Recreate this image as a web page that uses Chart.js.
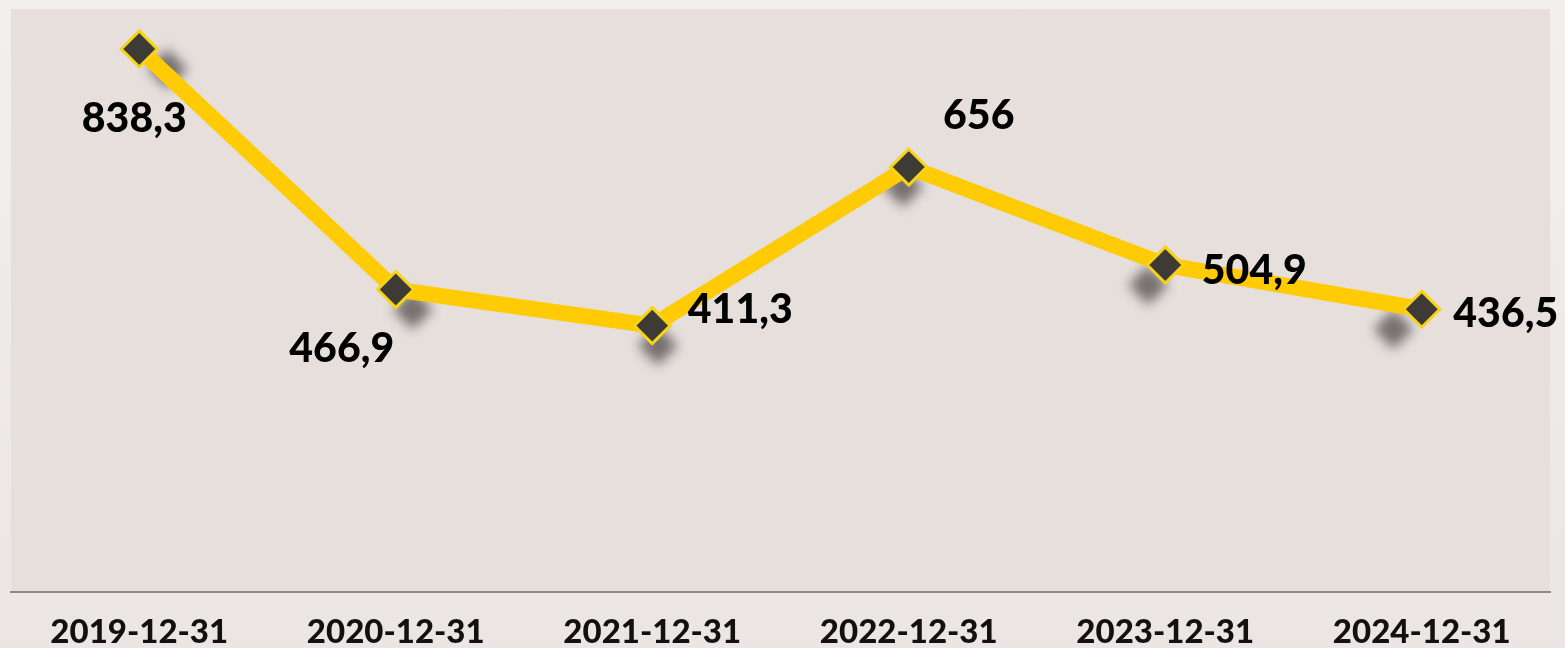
<!DOCTYPE html>
<html>
<head>
<meta charset="utf-8">
<script src="https://cdn.jsdelivr.net/npm/chart.js@4"></script>
<style>
html,body{margin:0;padding:0;background:#eeeae7;}
#wrap{width:1565px;height:648px;position:relative;background:linear-gradient(#f2efed,#ebe6e3);}
canvas{display:block;}
</style>
</head>
<body>
<div id="wrap"><canvas id="c" width="1565" height="648"></canvas></div>
<script>
const categories = ["2019-12-31","2020-12-31","2021-12-31","2022-12-31","2023-12-31","2024-12-31"];
const values = [838.3, 466.9, 411.3, 656, 504.9, 436.5];
const valueLabels = ["838,3","466,9","411,3","656","504,9","436,5"];

const plotBg = {
  id:'plotBg',
  beforeDraw(chart){
    const {ctx, chartArea:a} = chart;
    ctx.save();
    ctx.fillStyle = '#e6dfdc';
    ctx.fillRect(a.left, a.top, a.right-a.left, a.bottom-a.top);
    ctx.restore();
  }
};

const shadows = {
  id:'shadows',
  beforeDatasetsDraw(chart){
    const {ctx} = chart;
    const meta = chart.getDatasetMeta(0);
    const cx = (chart.chartArea.left + chart.chartArea.right)/2;
    ctx.save();
    ctx.filter = 'blur(6px)';
    ctx.fillStyle = 'rgba(70,66,64,0.7)';
    meta.data.forEach(p => {
      const x = p.x - 0.044*(p.x - cx);
      const y = p.y + 20;
      const r = 20;
      ctx.beginPath();
      ctx.moveTo(x, y-r); ctx.lineTo(x+r, y); ctx.lineTo(x, y+r); ctx.lineTo(x-r, y);
      ctx.closePath(); ctx.fill();
    });
    ctx.restore();
  }
};

const labelsPlugin = {
  id:'valueLabels',
  afterDatasetsDraw(chart, args, opts){
    const {ctx} = chart;
    const meta = chart.getDatasetMeta(0);
    ctx.save();
    ctx.font = opts.font;
    ctx.fillStyle = opts.color;
    ctx.textAlign = 'center';
    ctx.textBaseline = 'alphabetic';
    meta.data.forEach((p,i) => {
      const o = opts.offsets[i];
      ctx.fillText(valueLabels[i], p.x + o[0], p.y + o[1]);
    });
    ctx.restore();
  }
};

new Chart(document.getElementById('c'), {
  type:'line',
  data:{
    labels: categories,
    datasets:[{
      data: values,
      borderColor:'#ffcb05',
      borderWidth:16,
      pointStyle:'rectRot',
      pointRadius:18,
      pointHoverRadius:18,
      pointBackgroundColor:'#3e3a35',
      pointBorderColor:'#f7d414',
      pointBorderWidth:3,
      tension:0,
      clip:false
    }]
  },
  options:{
    responsive:false,
    animation:false,
    events:[],
    layout:{autoPadding:false, padding:{left:11,right:15,top:9,bottom:0}},
    plugins:{
      legend:{display:false},
      tooltip:{enabled:false},
      valueLabels:{
        font:'900 41px Lato',
        color:'#000',
        offsets:[[-5,83],[-54,72],[88,-3],[70,-38],[89,19],[84,18]]
      }
    },
    scales:{
      x:{
        offset:true,
        grid:{display:false, drawTicks:false},
        border:{display:true, color:'#8c8a88', width:2},
        ticks:{font:{family:'Lato', weight:'900', size:33}, color:'#111', padding:21, maxRotation:0},
        afterFit(s){ s.height = 56; }
      },
      y:{
        display:false,
        min:0, max:900
      }
    }
  },
  plugins:[plotBg, shadows, labelsPlugin]
});
</script>
</body>
</html>
